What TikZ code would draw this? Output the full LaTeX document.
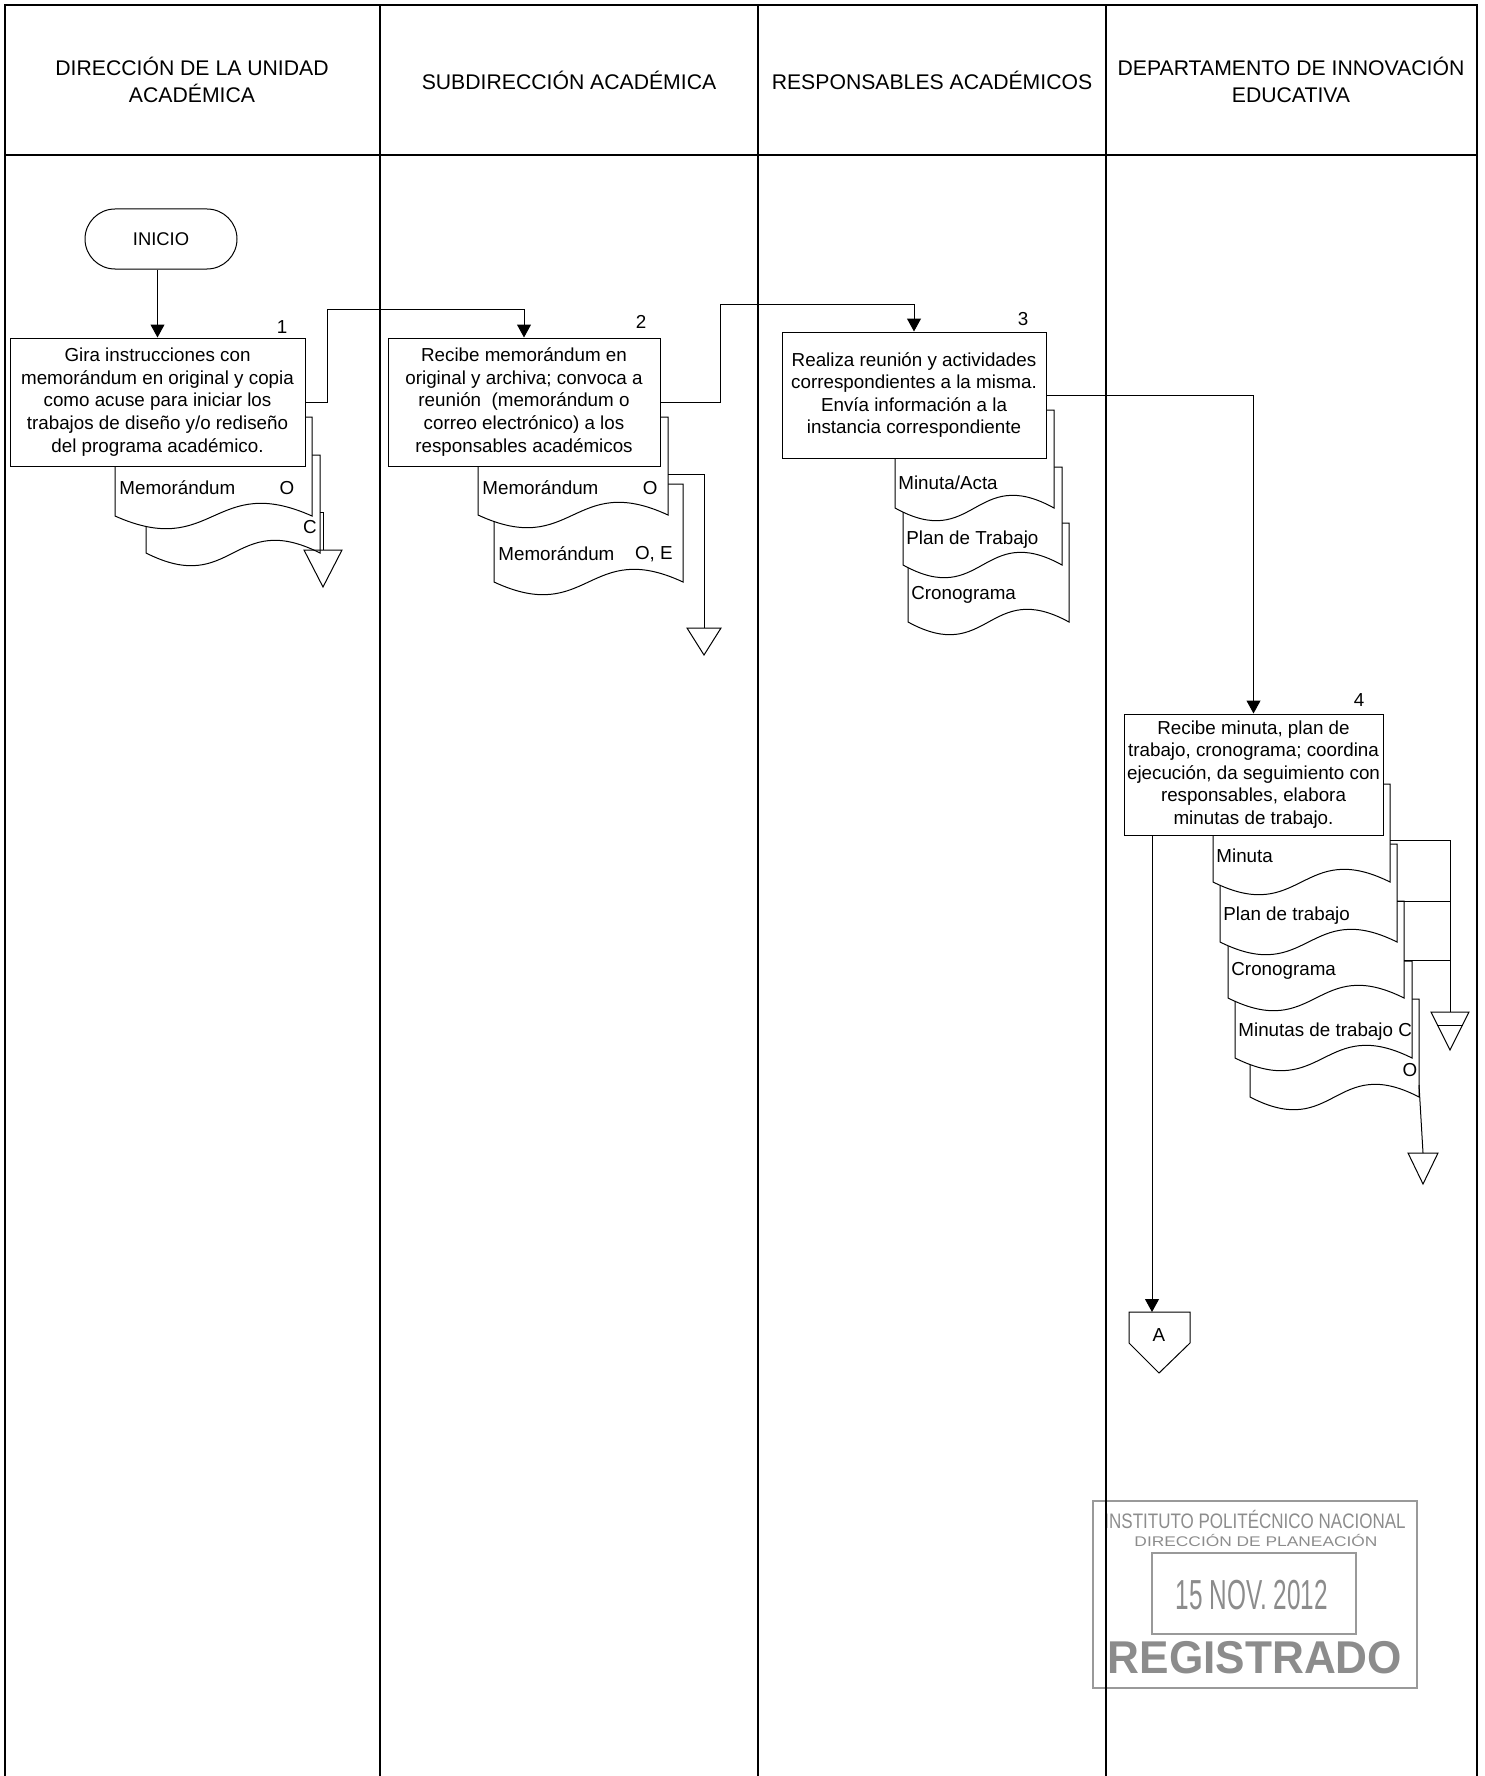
\documentclass[tikz,border=0pt]{standalone}
\usepackage{fontspec}
\usepackage{graphicx}
\setmainfont{Liberation Sans}
\usetikzlibrary{arrows.meta,calc}

% document shape: left, top, right, bottom
\newcommand{\docu}[4]{%
	\draw[docline] (#1,#2) -- (#3,#2) -- (#3,#4) .. controls ({(#1+#3)/2},{#4-44}) and ({(#1+#3)/2},{#4+44}) .. (#1,#4) -- cycle;}

\begin{document}
\begin{tikzpicture}[x=0.5pt,y=-0.5pt,
		lane/.style={line width=1.2pt},
		thinline/.style={line width=0.5pt},
		docline/.style={line width=0.5pt,fill=white},
		stepbox/.style={draw,line width=0.5pt,fill=white,align=center,inner sep=0pt,font=\fontsize{9.4}{11.3}\selectfont},
		flow/.style={line width=0.5pt,-{Triangle[length=6.5pt,width=7pt]}},
		lanetext/.style={align=center,font=\fontsize{10.6}{13.5}\selectfont},
		doctext/.style={font=\fontsize{9.4}{11}\selectfont,inner sep=0pt},
		stamptext/.style={text=black!45,inner sep=0pt}]

	\useasboundingbox (0,0) rectangle (1484,1776);

	% sello
	\draw[black!40,line width=0.8pt] (1093,1501) rectangle (1417,1688);
	\draw[black!40,line width=0.8pt] (1152,1553) rectangle (1356,1634);
	\node[stamptext,font=\fontsize{10.5}{12}\selectfont] (ipn) at (1255,1519) {\scalebox{0.81}[1]{INSTITUTO POLITÉCNICO NACIONAL}};
	\node[stamptext,font=\fontsize{7}{8}\selectfont] (dpl) at (1256,1540) {\scalebox{1.24}[1]{DIRECCIÓN DE PLANEACIÓN}};
	\node[stamptext,font=\fontsize{21}{24}\selectfont] (fecha) at (1252,1595) {\scalebox{0.58}[1]{15 NOV. 2012}};
	\node[stamptext,font=\fontsize{23}{26}\selectfont\bfseries] (reg) at (1255,1658) {\scalebox{0.96}[1]{REGISTRADO}};

	% carriles
	\draw[lane] (5,1776) -- (5,5) -- (1477,5) -- (1477,1776);
	\draw[lane] (5,155) -- (1477,155);
	\foreach \x in {380,758,1106}
		\draw[lane] (\x,5) -- (\x,1776);

	\node[lanetext] (h1) at (192,80) {DIRECCIÓN DE LA UNIDAD\\ACADÉMICA};
	\node[lanetext] (h2) at (569,80) {SUBDIRECCIÓN ACADÉMICA};
	\node[lanetext] (h3) at (932,80) {RESPONSABLES ACADÉMICOS};
	\node[lanetext] (h4) at (1291,80) {DEPARTAMENTO DE INNOVACIÓN\\EDUCATIVA};

	% documentos
	\docu{146}{455}{320}{553}
	\docu{115}{417}{312}{516}
	\docu{494}{484}{683}{582}
	\docu{478}{417}{668}{515}
	\docu{908}{523}{1069}{622}
	\docu{903}{467}{1062}{565}
	\docu{895}{410}{1054}{508}
	\docu{1250}{999}{1419}{1097}
	\docu{1235}{961}{1412}{1058}
	\docu{1228}{901}{1404}{998}
	\docu{1220}{844}{1397}{942}
	\docu{1213}{784}{1390}{882}

	\node[doctext,anchor=west] (m1) at (119,488) {Memorándum};
	\node[doctext] (m1o) at (287,488) {O};
	\node[doctext] (m1c) at (310,527) {C};
	\node[doctext,anchor=west] (m2) at (482,488) {Memorándum};
	\node[doctext,anchor=east] (m2o) at (658,488) {O};
	\node[doctext,anchor=west] (m3) at (498,554) {Memorándum};
	\node[doctext,anchor=east] (m3o) at (673,554) {O, E};
	\node[doctext,anchor=west] (acta) at (898,483) {Minuta/Acta};
	\node[doctext,anchor=west] (plan) at (906,540) {Plan de Trabajo};
	\node[doctext,anchor=west] (crono) at (911,595) {Cronograma};
	\node[doctext,anchor=west] (min) at (1216,856) {Minuta};
	\node[doctext,anchor=west] (plan2) at (1223,916) {Plan de trabajo};
	\node[doctext,anchor=west] (crono2) at (1231,971) {Cronograma};
	\node[doctext,anchor=west] (mins) at (1238,1032) {Minutas de trabajo C};
	\node[doctext] (minso) at (1410,1070) {O};

	% archivo
	\coordinate (t1) at (323,550);
	\coordinate (t2) at (704,628);
	\coordinate (t4) at (1450,1012);
	\coordinate (t5) at (1423,1153);
	\draw[thinline] (t1) ++(-19,0) -- ++(38,0) -- ++(-19,37) -- cycle;
	\draw[thinline] (t2) ++(-17,0) -- ++(34,0) -- ++(-17,27) -- cycle;
	\draw[thinline] (t4) ++(-19,0) -- ++(38,0) -- ++(-19,38) -- cycle;
	\draw[thinline] (t4) ++(-13,13) -- ++(26,0);
	\draw[thinline] (t5) ++(-15,0) -- ++(30,0) -- ++(-15,31) -- cycle;

	\draw[thinline] (320,512) -- (323,512) -- (t1);
	\draw[thinline] (668,474) -| (t2);
	\draw[thinline] (1390,840) -| (t4);
	\draw[thinline] (1397,901) -- (1450,901);
	\draw[thinline] (1404,960) -- (1450,960);
	\draw[thinline] (1419,1085) -- (t5);

	% actividades
	\node[stepbox,rounded corners=15pt,minimum width=76pt,minimum height=30pt,font=\fontsize{9.2}{11}\selectfont] (inicio) at (161,239) {INICIO};
	\node[stepbox,minimum width=147.5pt,minimum height=64pt] (s1) at (157.5,402) {Gira instrucciones con\\memorándum en original y copia\\como acuse para iniciar los\\trabajos de diseño y/o rediseño\\del programa académico.};
	\node[stepbox,minimum width=136pt,minimum height=64pt] (s2) at (524,402) {Recibe memorándum en\\original y archiva; convoca a\\reunión~ (memorándum o\\correo electrónico) a los\\responsables académicos};
	\node[stepbox,minimum width=132pt,minimum height=63pt] (s3) at (914,395) {Realiza reunión y actividades\\correspondientes a la misma.\\Envía información a la\\instancia correspondiente};
	\node[stepbox,minimum width=129.5pt,minimum height=60.5pt] (s4) at (1253.5,774.5) {Recibe minuta, plan de\\trabajo, cronograma; coordina\\ejecución, da seguimiento con\\responsables, elabora\\minutas de trabajo.};

	\node[doctext] (n1) at (282,327) {1};
	\node[doctext] (n2) at (641,322) {2};
	\node[doctext] (n3) at (1023,319) {3};
	\node[doctext] (n4) at (1359,700) {4};

	% conector fuera de pagina
	\draw[thinline] (1129,1312) -- (1190,1312) -- (1190,1343) -- (1159,1373) -- (1129,1343) -- cycle;
	\node[doctext] (conA) at (1159,1335) {A};
	\coordinate (conAtop) at (1152,1312);

	% flujo
	\coordinate (k1) at (327,309);
	\coordinate (k2) at (720,304);
	\draw[flow] (inicio.south -| s1.north) -- (s1.north);
	\draw[flow] (s1.east) -| (k1) -| (s2.north);
	\draw[flow] (s2.east) -| (k2) -| (s3.north);
	\draw[flow] (s3.east) -| (s4.north);
	\draw[flow] (s4.south -| conAtop) -- (conAtop);
\end{tikzpicture}
\end{document}
